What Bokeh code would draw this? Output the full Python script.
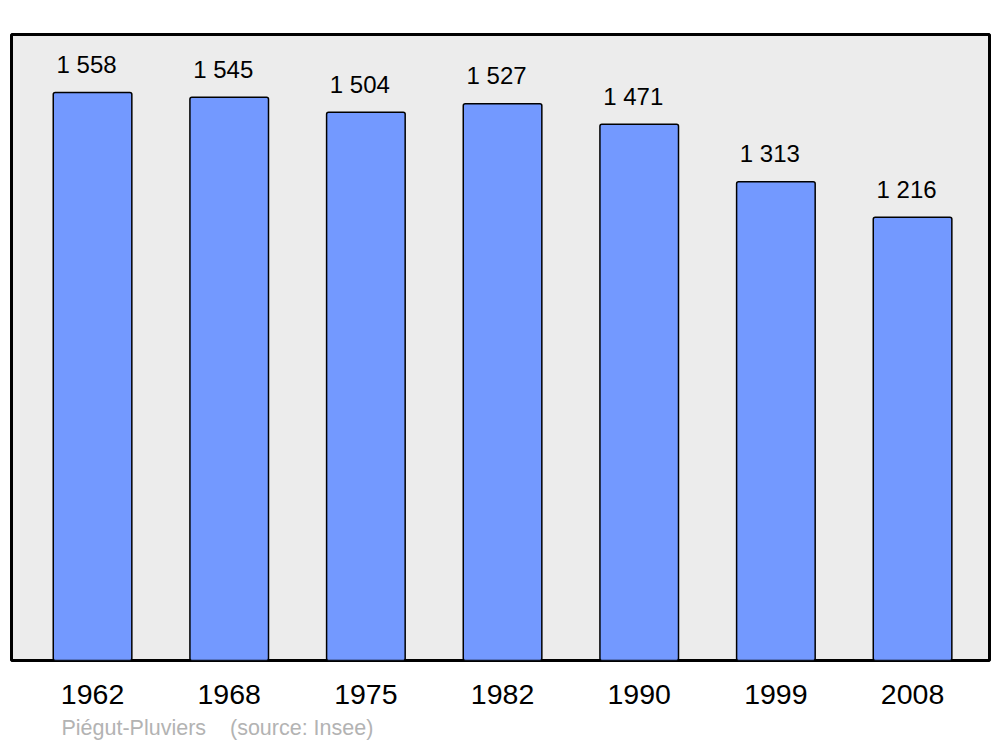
from bokeh.plotting import figure
from bokeh.models import Range1d, Title, ColumnDataSource, FixedTicker
from bokeh.core.properties import value
from bokeh.embed import file_html
from bokeh.resources import INLINE

years = ["1962", "1968", "1975", "1982", "1990", "1999", "2008"]
population = [1558, 1545, 1504, 1527, 1471, 1313, 1216]
value_labels = ["1 558", "1 545", "1 504", "1 527", "1 471", "1 313", "1 216"]
place = "Piégut-Pluviers"
source_note = "(source: Insee)"

FONT = "Liberation Sans"

idx = list(range(len(years)))
src = ColumnDataSource(dict(x=idx, top=population, lab=value_labels))

p = figure(width=1000, height=747, output_backend="svg", toolbar_location=None,
           x_range=Range1d(-0.593, 6.563),
           y_range=Range1d(0, 1717),
           min_border_left=11, min_border_right=11, min_border_top=34, min_border_bottom=87)

p.background_fill_color = "#ececec"
p.border_fill_color = "white"
p.outline_line_color = "black"
p.outline_line_width = 3
p.grid.visible = False
p.yaxis.visible = False

ax = p.xaxis[0]
ax.ticker = FixedTicker(ticks=idx)
ax.major_label_overrides = {i: y for i, y in zip(idx, years)}
ax.axis_line_color = None
ax.major_tick_line_color = None
ax.minor_tick_line_color = None
ax.major_tick_in = 0
ax.major_tick_out = 0
ax.major_label_standoff = 24
ax.major_label_text_font = FONT
ax.major_label_text_font_size = "28.5px"
ax.major_label_text_color = "black"

p.vbar(x="x", top="top", width=0.575, bottom=0, source=src,
       fill_color="#7399ff", line_color="black", line_width=1.5, border_radius=2)

p.text(x="x", y="top", text="lab", source=src,
       text_font=value(FONT), text_font_size="24px", text_color="black",
       text_align="center", text_baseline="alphabetic", y_offset=-28, x_offset=-6)

footer = place + "\u00a0" * 4 + source_note
p.add_layout(Title(text=footer, align="left", offset=50, standoff=14,
                   text_font=FONT, text_font_size="21.5px", text_color="#b3b3b3",
                   text_font_style="normal"), "below")

open("out.html", "w").write(file_html(p, INLINE))
